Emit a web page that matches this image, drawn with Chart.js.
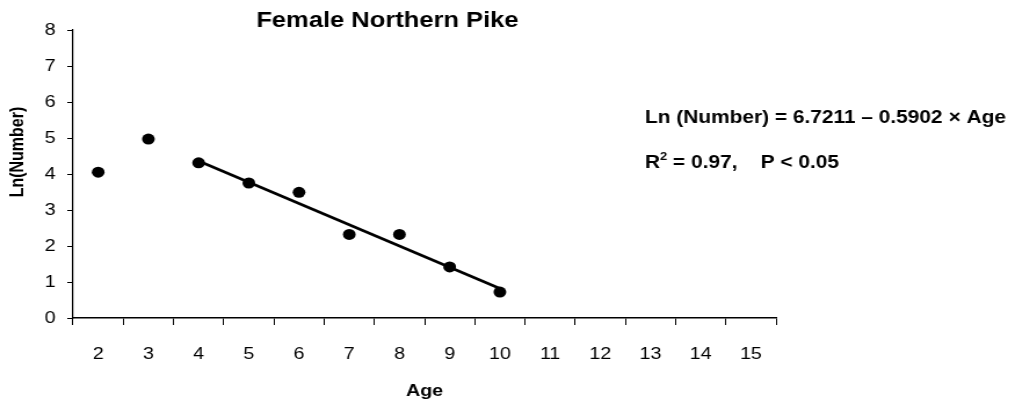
<!DOCTYPE html>
<html>
<head>
<meta charset="utf-8">
<script src="https://cdn.jsdelivr.net/npm/chart.js@4/dist/chart.umd.min.js"></script>
<style>
  html, body { margin: 0; padding: 0; background: #fff; overflow: hidden; }
  /* the original figure was stretched sideways, so draw narrow and widen it */
  #wrap { width: 878px; height: 408px; transform: scaleX(1.16); transform-origin: 0 0; }
</style>
</head>
<body>
<div id="wrap"><canvas id="pikeChart"></canvas></div>
<script>
const ages = ['2', '3', '4', '5', '6', '7', '8', '9', '10', '11', '12', '13', '14', '15'];
const lnNumber = [4.05, 4.97, 4.31, 3.75, 3.49, 2.32, 2.32, 1.42, 0.72];
const fitAges = [4, 10];
const fitIntercept = 6.7211;
const fitSlope = -0.5902;
const yTicks = [0, 1, 2, 3, 4, 5, 6, 7, 8];

const FONT = '"Liberation Sans", Arial, sans-serif';

// regression line only between first and last fitted age
const fitLine = ages.map(function (a) {
    const n = Number(a);
    if (n === fitAges[0] || n === fitAges[1]) return fitIntercept + fitSlope * n;
    return null;
});

const textPlugin = {
    id: 'pikeText',
    afterDraw: function (chart) {
        const ctx = chart.ctx;
        ctx.save();
        ctx.fillStyle = '#000';

        ctx.font = 'bold 22px ' + FONT;
        ctx.textAlign = 'center';
        ctx.textBaseline = 'middle';
        ctx.fillText('Female Northern Pike', 334, 21);

        // y axis title
        ctx.save();
        ctx.translate(15.5, 152);
        ctx.rotate(-Math.PI / 2);
        ctx.font = 'bold 16px ' + FONT;
        ctx.fillText('Ln(Number)', 0, 0);
        ctx.restore();

        ctx.textAlign = 'left';
        ctx.textBaseline = 'alphabetic';
        ctx.font = 'bold 18px ' + FONT;
        ctx.fillText('Ln (Number) = 6.7211 \u2013 0.5902 \u00d7 Age', 556, 123);

        ctx.fillText('R', 556, 168);
        let x = 556 + ctx.measureText('R').width;
        ctx.font = 'bold 11px ' + FONT;
        ctx.fillText('2', x, 160);
        x += ctx.measureText('2').width;
        ctx.font = 'bold 18px ' + FONT;
        ctx.fillText(' = 0.97,    P < 0.05', x, 168);
        ctx.restore();
    }
};

new Chart(document.getElementById('pikeChart'), {
    type: 'line',
    data: {
        labels: ages,
        datasets: [{
            label: 'Ln(Number)',
            data: lnNumber,
            showLine: false,
            pointRadius: 5.5,
            pointBackgroundColor: '#000',
            pointBorderColor: '#000',
            pointBorderWidth: 0
        }, {
            label: 'Fit',
            data: fitLine,
            spanGaps: true,
            borderColor: '#000',
            borderWidth: 2.6,
            pointRadius: 0,
            fill: false
        }]
    },
    options: {
        responsive: true,
        maintainAspectRatio: false,
        animation: false,
        events: [],
        layout: { padding: { top: 30, right: 209, bottom: 0, left: 0 } },
        plugins: {
            legend: { display: false },
            tooltip: { enabled: false }
        },
        scales: {
            x: {
                offset: true,
                grid: {
                    offset: true,
                    drawOnChartArea: false,
                    drawTicks: true,
                    tickLength: 7,
                    color: '#000',
                    tickColor: '#000'
                },
                border: { color: '#000', width: 1.5 },
                ticks: {
                    color: '#000',
                    padding: 19,
                    maxRotation: 0,
                    autoSkip: false,
                    font: { family: FONT, size: 17 }
                },
                title: {
                    display: true,
                    text: 'Age',
                    color: '#000',
                    padding: { top: 0, bottom: 6 },
                    font: { family: FONT, size: 17, weight: 'bold' }
                },
                afterFit: function (scale) { scale.height = 90; }
            },
            y: {
                min: 0,
                max: 8,
                afterBuildTicks: function (scale) {
                    scale.ticks = yTicks.map(function (v) { return { value: v }; });
                },
                grid: {
                    drawOnChartArea: false,
                    tickLength: 5,
                    color: '#000',
                    tickColor: '#000'
                },
                border: { color: '#000', width: 1.2 },
                ticks: {
                    color: '#000',
                    padding: 10,
                    font: { family: FONT, size: 17 }
                },
                afterFit: function (scale) { scale.width = 63; }
            }
        }
    },
    plugins: [textPlugin]
});
</script>
</body>
</html>
